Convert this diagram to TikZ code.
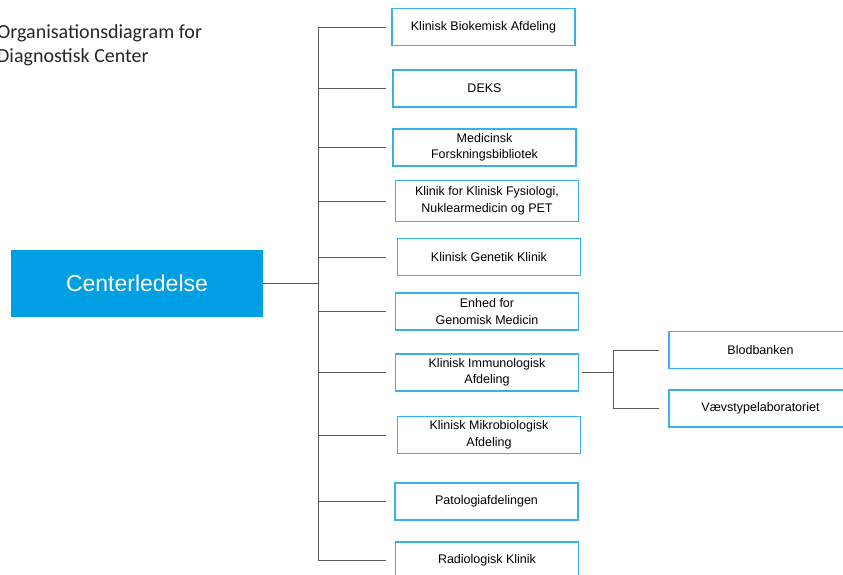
\documentclass[tikz,border=0pt]{standalone}
\usepackage{fontspec}
\setmainfont{Liberation Sans}
\newfontfamily\titlefont{Carlito}
\definecolor{lederblue}{HTML}{009FE3}
\definecolor{unitblue}{HTML}{3AAFE8}
\definecolor{linegray}{HTML}{5A5A5A}

\begin{document}
\begin{tikzpicture}[x=1pt,y=-1pt,
  unit/.style={draw=unitblue,line width=1.4pt,fill=white,text=black,
    minimum width=183pt,minimum height=37pt,inner sep=0pt,align=center,
    font=\fontsize{12.5}{16.5}\selectfont},
  leder/.style={fill=lederblue,text=white,minimum width=252pt,
    minimum height=67pt,inner sep=0pt,font=\fontsize{23}{27}\selectfont},
  link/.style={draw=linegray,line width=0.9pt}]
\useasboundingbox (0,0) rectangle (843,575);
\clip (0,0) rectangle (843,575);
% titel
\node[anchor=north west,inner sep=0pt,align=left,text=black!85,
      font=\titlefont\fontsize{20}{24}\selectfont] (title) at (-3,24)
      {Organisationsdiagram for\\Diagnostisk Center};
% ledelse og afdelinger
\node[leder] (cl) at (137,283.5) {Centerledelse};
\node[unit] (b1) at (483.5,27) {Klinisk Biokemisk Afdeling};
\node[unit] (b2) at (484.5,88.5) {DEKS};
\node[unit] (b3) at (484.5,147.5) {Medicinsk\\Forskningsbibliotek};
\node[unit,minimum height=41pt] (b4) at (487,201) {Klinik for Klinisk Fysiologi,\\Nuklearmedicin og PET};
\node[unit] (b5) at (489,257) {Klinisk Genetik Klinik};
\node[unit] (b6) at (487,311.5) {Enhed for\\Genomisk Medicin};
\node[unit] (b7) at (487,372.5) {Klinisk Immunologisk\\Afdeling};
\node[unit] (b8) at (489,435) {Klinisk Mikrobiologisk\\Afdeling};
\node[unit] (b9) at (486.5,501.5) {Patologiafdelingen};
\node[unit] (b10) at (487,560.5) {Radiologisk Klinik};
\node[unit] (bb) at (760.5,350) {Blodbanken};
\node[unit] (vt) at (760.5,408.5) {V\ae vstypelaboratoriet};
% forbindelser
\coordinate (tr) at (318,0);
\coordinate (br) at (386,0);
\draw[link] (cl.east) -- (tr |- cl);
\draw[link] (tr |- b1) -- (tr |- b10);
\draw[link] (tr |- b1) -- (br |- b1);
\draw[link] (tr |- b2) -- (br |- b2);
\draw[link] (tr |- b3) -- (br |- b3);
\draw[link] (tr |- b4) -- (br |- b4);
\draw[link] (tr |- b5) -- (br |- b5);
\draw[link] (tr |- b6) -- (br |- b6);
\draw[link] (tr |- b7) -- (br |- b7);
\draw[link] (tr |- b8) -- (br |- b8);
\draw[link] (tr |- b9) -- (br |- b9);
\draw[link] (tr |- b10) -- (br |- b10);
\coordinate (st) at (613,0);
\coordinate (sb) at (659,0);
\draw[link,shorten <=3pt] (b7.east) -- (st |- b7.east);
\draw[link] (st |- bb) -- (st |- vt);
\draw[link] (st |- bb) -- (sb |- bb);
\draw[link] (st |- vt) -- (sb |- vt);
\end{tikzpicture}
\end{document}
